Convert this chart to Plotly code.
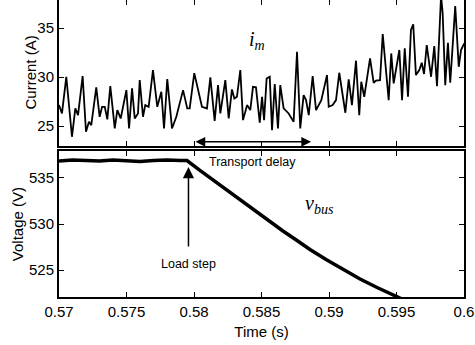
import plotly.graph_objects as go

# ---------------- data ----------------
time_im = [0.57000, 0.57022, 0.57054, 0.57096, 0.57121, 0.57141, 0.57175, 0.57200, 0.57222, 0.57239,
           0.57276, 0.57301, 0.57319, 0.57339, 0.57358, 0.57380, 0.57413, 0.57432, 0.57457, 0.57499,
           0.57519, 0.57541, 0.57561, 0.57585, 0.57598, 0.57622, 0.57639, 0.57664, 0.57696, 0.57728,
           0.57758, 0.57778, 0.57802, 0.57837, 0.57869, 0.57919, 0.57950, 0.57968, 0.58002,
           0.58059, 0.58096, 0.58121, 0.58153, 0.58178, 0.58195, 0.58232, 0.58257, 0.58281, 0.58299,
           0.58318, 0.58343, 0.58363, 0.58393, 0.58417, 0.58437, 0.58459, 0.58487, 0.58504, 0.58519,
           0.58538, 0.58561, 0.58578, 0.58598, 0.58622, 0.58639, 0.58664, 0.58701, 0.58738, 0.58763,
           0.58787, 0.58812, 0.58830, 0.58850, 0.58879, 0.58904, 0.58943, 0.58985,
           0.58998, 0.59027, 0.59052, 0.59076, 0.59121, 0.59146, 0.59170, 0.59200, 0.59224, 0.59239,
           0.59261, 0.59304, 0.59331, 0.59348, 0.59378, 0.59398, 0.59442, 0.59461, 0.59479, 0.59521,
           0.59541, 0.59561, 0.59585, 0.59607, 0.59624, 0.59644, 0.59669, 0.59687, 0.59704, 0.59724,
           0.59756, 0.59780, 0.59800, 0.59830, 0.59842, 0.59861, 0.59881, 0.59898, 0.59935, 0.59961,
           0.59978, 0.60002]
current_im = [27.14, 26.29, 30.03, 23.91, 26.80, 26.12, 30.10, 24.42, 25.44, 25.10,
              28.95, 25.95, 26.97, 26.97, 25.68, 29.08, 24.76, 26.63, 25.78, 28.67,
              24.76, 28.84, 25.78, 26.29, 29.69, 25.95, 27.14, 26.97, 30.71, 26.97,
              28.50, 24.76, 29.80, 24.76, 25.95, 28.67, 26.80, 26.80, 30.40,
              26.97, 26.80, 29.97, 25.54, 29.18, 26.29, 29.69, 25.78, 28.74, 27.82,
              27.99, 30.71, 25.61, 27.14, 26.63, 29.01, 28.95, 25.34, 27.99, 25.61,
              29.86, 30.03, 24.59, 29.29, 24.76, 29.18, 26.80, 26.29, 25.44, 32.59,
              24.76, 28.16, 27.65, 26.12, 30.10, 26.63, 27.65, 30.20,
              26.97, 27.14, 27.65, 30.44, 26.36, 29.76, 27.14, 31.67, 26.12, 29.52,
              27.99, 31.90, 29.42, 29.63, 29.69, 34.39, 27.65, 32.41, 29.35, 32.76,
              27.65, 32.93, 27.99, 34.80, 35.37, 30.20, 30.71, 31.46, 30.31, 33.27,
              30.03, 33.16, 29.08, 38.30, 36.50, 29.18, 33.50, 29.42, 37.24, 31.05,
              32.76, 33.44]

time_v = [0.5700, 0.5710, 0.5720, 0.5730, 0.5740, 0.5750, 0.5760, 0.5770, 0.5780, 0.5790, 0.57948,
          0.58044, 0.58156, 0.58267, 0.58415, 0.58541, 0.58659, 0.58763, 0.58859, 0.58978,
          0.59104, 0.59230, 0.59356, 0.59504, 0.59563]
voltage_v = [536.85, 536.95, 536.90, 536.85, 536.95, 536.85, 536.80, 536.90, 536.95, 536.90, 536.90,
             535.82, 534.62, 533.42, 531.85, 530.43, 529.24, 528.21, 527.23, 526.14,
             525.05, 524.02, 523.10, 522.07, 521.70]

x_ticks = [0.57, 0.575, 0.58, 0.585, 0.59, 0.595, 0.6]
x_tick_labels = ["0.57", "0.575", "0.58", "0.585", "0.59", "0.595", "0.6"]
i_ticks = [25, 30, 35]
v_ticks = [525, 530, 535]

delay_start, delay_end, delay_level = 0.58, 0.58867, 23.4
load_step_t, load_tip_v, load_tail_v = 0.57959, 536.2, 527.4

# ---------------- figure ----------------
FONT = "Liberation Sans, Arial, sans-serif"
SERIF = "Liberation Serif, Times New Roman, serif"

fig = go.Figure()
fig.add_trace(go.Scatter(x=time_im, y=current_im, mode="lines", xaxis="x", yaxis="y",
                         line=dict(color="black", width=1.8), showlegend=False, hoverinfo="skip"))
fig.add_trace(go.Scatter(x=[0.58], y=[30], mode="none", xaxis="x3", yaxis="y",
                         showlegend=False, hoverinfo="skip"))
fig.add_trace(go.Scatter(x=time_v, y=voltage_v, mode="lines", xaxis="x2", yaxis="y2",
                         line=dict(color="black", width=3.5), showlegend=False, hoverinfo="skip"))

axis_common = dict(showline=True, linecolor="black", linewidth=2, ticks="inside", ticklen=5,
                   tickwidth=1, tickcolor="black", showgrid=False, zeroline=False,
                   tickfont=dict(family=FONT, size=15, color="black"))

fig.update_layout(
    width=475, height=345,
    margin=dict(l=59, r=11, t=0, b=48),
    paper_bgcolor="white", plot_bgcolor="white",
    xaxis=dict(domain=[0, 1], range=[0.57, 0.6], anchor="y", tickvals=x_ticks,
               showticklabels=False, mirror=False, **axis_common),
    xaxis3=dict(overlaying="x", anchor="y", side="top", range=[0.57, 0.6], tickvals=x_ticks,
                showticklabels=False, showline=False, ticks="inside", ticklen=5, tickwidth=1,
                tickcolor="black", showgrid=False, zeroline=False),
    yaxis=dict(domain=[0.5094, 1], range=[23.0, 37.86], anchor="x", tickvals=i_ticks,
               mirror="ticks", **axis_common),
    xaxis2=dict(domain=[0, 1], range=[0.57, 0.6], anchor="y2", tickvals=x_ticks,
                ticktext=x_tick_labels, mirror="ticks",
                title=dict(text="Time (s)", font=dict(family=FONT, size=15, color="black"), standoff=7),
                **axis_common),
    yaxis2=dict(domain=[0, 0.4906], range=[522.07, 537.9], anchor="x2", tickvals=v_ticks,
                mirror="ticks", **axis_common),
)

annotations = [
    # y-axis titles
    dict(x=-0.070, y=0.5, xref="paper", yref="y domain", text="Current (A)", textangle=-90,
         showarrow=False, font=dict(family=FONT, size=15, color="black"),
         xanchor="center", yanchor="middle"),
    dict(x=-0.1037, y=0.5, xref="paper", yref="y2 domain", text="Voltage (V)", textangle=-90,
         showarrow=False, font=dict(family=FONT, size=15, color="black"),
         xanchor="center", yanchor="middle"),
    # transport delay double arrow
    dict(x=delay_end, y=delay_level, ax=delay_start, ay=delay_level, xref="x", yref="y",
         axref="x", ayref="y", text="", showarrow=True, arrowside="end+start",
         arrowhead=2, startarrowhead=2, arrowsize=1.3, startarrowsize=1.3,
         arrowwidth=1.5, arrowcolor="black", standoff=0, startstandoff=0),
    dict(x=(delay_start + delay_end) / 2, y=536.74, xref="x2", yref="y2", text="Transport delay",
         showarrow=False, font=dict(family=FONT, size=12.5, color="black"),
         xanchor="center", yanchor="middle"),
    # load step arrow
    dict(x=load_step_t, y=load_tip_v, ax=load_step_t, ay=load_tail_v, xref="x2", yref="y2",
         axref="x2", ayref="y2", text="", showarrow=True, arrowhead=2, arrowsize=1.5,
         arrowwidth=1.5, arrowcolor="black", standoff=0),
    dict(x=load_step_t, y=525.65, xref="x2", yref="y2", text="Load step", showarrow=False,
         font=dict(family=FONT, size=12.5, color="black"), xanchor="center", yanchor="middle"),
    # series labels
    dict(x=0.58467, y=33.78, xref="x", yref="y", text="<i>i</i><sub><i>m</i></sub>",
         showarrow=False, font=dict(family=SERIF, size=20, color="black"),
         xanchor="center", yanchor="middle"),
    dict(x=0.58933, y=532.07, xref="x2", yref="y2", text="<i>v</i><sub><i>bus</i></sub>",
         showarrow=False, font=dict(family=SERIF, size=20, color="black"),
         xanchor="center", yanchor="middle"),
]
fig.update_layout(annotations=annotations)

fig.write_html("out.html")
